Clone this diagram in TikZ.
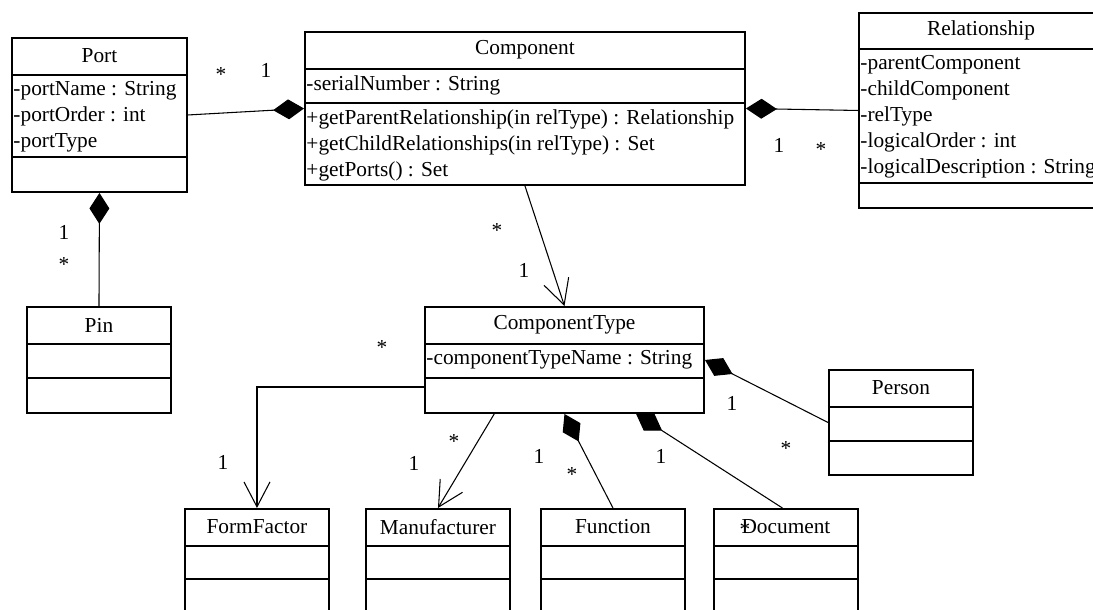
\documentclass[tikz,border=0pt]{standalone}
\usepackage{fontspec}
\setmainfont{Liberation Serif}
\usepackage{tikz}
\usetikzlibrary{arrows.meta,calc}

\begin{document}
\begin{tikzpicture}[
  x=0.5625pt, y=-0.5625pt,
  font=\fontsize{12}{14.6}\selectfont,
  cls/.style 2 args={draw, line width=1.1pt, anchor=north west, inner sep=0pt,
    minimum width=#1*0.5625pt, minimum height=#2*0.5625pt},
  sepline/.style={line width=1.1pt},
  cname/.style={inner sep=0pt},
  attrs/.style={anchor=north west, align=left, inner xsep=1.2pt, inner ysep=3.5pt},
  conn/.style={line width=0.6pt},
  compo/.style={conn, -{Diamond[length=17.4pt,width=11.2pt]}},
  navi/.style={conn, -{Straight Barb[length=14pt,width=14.6pt]}},
  mult/.style={inner sep=0pt},
  star/.style={mult, yshift=-1.6pt}]
\useasboundingbox (0,0) rectangle (1093,610);
\clip (0,0) rectangle (1093,610);

% classes
\node[cls={175}{154}] (port) at (11,37) {};
\draw[sepline] (port.west |- 0,75) -- (port.east |- 0,75);
\draw[sepline] (port.west |- 0,157) -- (port.east |- 0,157);
\node[cname] (portname) at (port.north |- 0,56) {Port};
\node[attrs] (portattr) at (port.west |- 0,75) {-portName : String\\-portOrder : int\\-portType};

\node[cls={440}{153}] (comp) at (304,31) {};
\draw[sepline] (comp.west |- 0,69) -- (comp.east |- 0,69);
\draw[sepline] (comp.west |- 0,103) -- (comp.east |- 0,103);
\node[cname] (compname) at (comp.north |- 0,50) {Component};
\node[attrs] (compattr) at (comp.west |- 0,69) {-serialNumber : String};
\node[attrs] (compops) at (comp.west |- 0,103) {+getParentRelationship(in relType) : Relationship\\+getChildRelationships(in relType) : Set\\+getPorts() : Set};

\node[cls={240}{195}] (rel) at (858,12) {};
\draw[sepline] (rel.west |- 0,49) -- (rel.east |- 0,49);
\draw[sepline] (rel.west |- 0,183) -- (rel.east |- 0,183);
\node[cname] (relname) at (981,30.5) {Relationship};
\node[attrs] (relattr) at (rel.west |- 0,49) {-parentComponent\\-childComponent\\-relType\\-logicalOrder : int\\-logicalDescription : String};

\node[cls={144}{106}] (pin) at (26,306) {};
\draw[sepline] (pin.west |- 0,344) -- (pin.east |- 0,344);
\draw[sepline] (pin.west |- 0,378) -- (pin.east |- 0,378);
\node[cname] (pinname) at (pin.north |- 0,325) {Pin};

\node[cls={279}{106}] (ctype) at (424,306) {};
\draw[sepline] (ctype.west |- 0,344) -- (ctype.east |- 0,344);
\draw[sepline] (ctype.west |- 0,378) -- (ctype.east |- 0,378);
\node[cname] (ctypename) at (ctype.north |- 0,325) {ComponentType};
\node[attrs] (ctypeattr) at (ctype.west |- 0,344) {-componentTypeName : String};

\node[cls={144}{105}] (person) at (828,369) {};
\draw[sepline] (person.west |- 0,407) -- (person.east |- 0,407);
\draw[sepline] (person.west |- 0,441) -- (person.east |- 0,441);
\node[cname] (personname) at (person.north |- 0,388) {Person};

\node[cls={144}{120}] (formf) at (184,508) {};
\node[cls={144}{120}] (manuf) at (365,508) {};
\node[cls={144}{120}] (func) at (540,508) {};
\node[cls={144}{120}] (doc) at (713,508) {};
\foreach \b in {formf,manuf,func,doc}{
  \draw[sepline] (\b.west |- 0,546) -- (\b.east |- 0,546);
  \draw[sepline] (\b.west |- 0,579) -- (\b.east |- 0,579);
}
\node[cname] (formfname) at (formf.north |- 0,527) {FormFactor};
\node[cname] (manufname) at (manuf.north |- 0,527) {Manufacturer};
\node[cname] (funcname) at (func.north |- 0,527) {Function};
\node[cname] (docname) at (doc.north |- 0,527) {Document};

% connectors
\draw[compo] (port.east) -- (comp.west);
\draw[compo] (rel.west) -- (comp.east);
\draw[compo] (pin.north) -- (port.south);
\draw[navi] (comp.south) -- (ctype.north);
\draw[navi] ([yshift=-27*0.5625pt]ctype.west) -| (formf.north);
\draw[navi] ($(ctype.south west)!0.25!(ctype.south east)$) -- (manuf.north);
\draw[compo] (func.north) -- (ctype.south);
\draw[compo] ([xshift=-2pt]doc.north) -- ($(ctype.south west)!0.755!(ctype.south east)$);
\draw[compo] (person.west) -- (ctype.east);

% multiplicities
\node[star] (pcs) at (221,72) {*};
\node[mult] (pc1) at (266,70) {1};
\node[mult] (cr1) at (779,145) {1};
\node[star] (crs) at (821,147) {*};
\node[mult] (pp1) at (64,232) {1};
\node[star] (pps) at (64,262) {*};
\node[star] (cts) at (497,228) {*};
\node[mult] (ct1) at (524,270) {1};
\node[star] (ffs) at (382,345) {*};
\node[mult] (ff1) at (223,462) {1};
\node[star] (mfs) at (454,439) {*};
\node[mult] (mf1) at (414,463) {1};
\node[mult] (fn1) at (539,456) {1};
\node[star] (fns) at (572,472) {*};
\node[mult] (dc1) at (661,456) {1};
\node[star] (dcs) at (745,527) {*};
\node[mult] (pr1) at (732,403) {1};
\node[star] (prs) at (786,446) {*};
\end{tikzpicture}
\end{document}
